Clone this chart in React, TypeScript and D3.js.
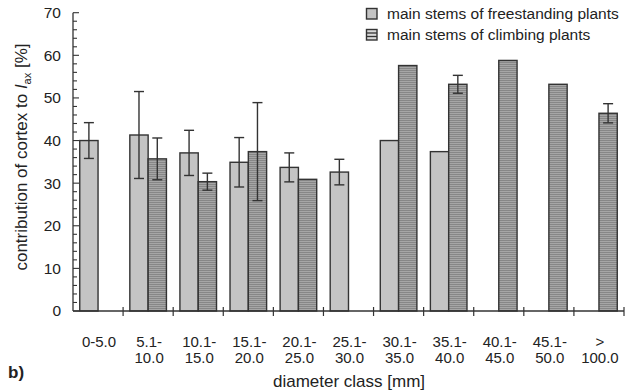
import React from "react";
import * as d3 from "d3";

// Diameter classes, shown as two-line labels
const classLine1 = ["0-5.0", "5.1-", "10.1-", "15.1-", "20.1-", "25.1-", "30.1-", "35.1-", "40.1-", "45.1-", ">"];
const classLine2 = ["", "10.0", "15.0", "20.0", "25.0", "30.0", "35.0", "40.0", "45.0", "50.0", "100.0"];

// Mean contribution of cortex to I_ax [%] and error (± SD); null = no data
const freestanding = [40.0, 41.3, 37.1, 34.9, 33.7, 32.6, 40.0, 37.4, null, null, null];
const freestandingErr = [4.2, 10.2, 5.3, 5.8, 3.4, 3.0, null, null, null, null, null];
const climbing = [null, 35.7, 30.35, 37.4, 30.9, null, 57.6, 53.2, 58.8, 53.2, 46.4];
const climbingErr = [null, 4.9, 2.0, 11.5, null, null, null, 2.1, null, null, 2.25];

const yTicks = [0, 10, 20, 30, 40, 50, 60, 70];

const W = 636;
const H = 392;
const FONT = "'Liberation Sans', Arial, Helvetica, sans-serif";
const INK = "#333";

export default function App() {
  const x = d3.scaleBand<number>().domain(d3.range(classLine1.length)).range([73, 624]).padding(0);
  const y = d3.scaleLinear().domain([0, 70]).range([311, 12.7]);
  const bw = x.bandwidth();
  const barW = 18.3;
  const minor = d3.range(0, 71, 2);

  const renderBar = (v: number | null, e: number | null, i: number, left: boolean) => {
    if (v == null) return null;
    const cx = x(i)! + bw / 2;
    const x0 = left ? cx - barW : cx;
    const mid = x0 + barW / 2;
    return (
      <g key={(left ? "f" : "c") + i}>
        <rect
          x={x0}
          y={y(v)}
          width={barW}
          height={y(0) - y(v)}
          fill={left ? "#c4c4c4" : "url(#stripes)"}
          stroke={INK}
          strokeWidth={1.4}
        />
        {e != null && (
          <g stroke={INK} strokeWidth={1.4}>
            <line x1={mid} x2={mid} y1={y(v + e)} y2={y(v - e)} />
            <line x1={mid - 5} x2={mid + 5} y1={y(v + e)} y2={y(v + e)} />
            <line x1={mid - 5} x2={mid + 5} y1={y(v - e)} y2={y(v - e)} />
          </g>
        )}
      </g>
    );
  };

  return (
    <svg width={W} height={H} style={{ position: "absolute", left: 0, top: 0, background: "#fff" }} fontFamily={FONT}>
      <defs>
        <pattern id="stripes" width={4} height={2} patternUnits="userSpaceOnUse">
          <rect width={4} height={2} fill="#a6a6a6" />
          <rect width={4} height={1} fill="#878787" />
        </pattern>
      </defs>

      {/* bars */}
      {freestanding.map((v, i) => renderBar(v, freestandingErr[i], i, true))}
      {climbing.map((v, i) => renderBar(v, climbingErr[i], i, false))}

      {/* y axis */}
      <line x1={73} x2={73} y1={y(0)} y2={y(70)} stroke={INK} strokeWidth={1.3} />
      {minor.map((t) => (
        <line key={t} x1={73} x2={t % 10 === 0 ? 79 : 77} y1={y(t)} y2={y(t)} stroke={INK} strokeWidth={1.1} />
      ))}
      {yTicks.map((t) => (
        <text key={t} x={61} y={y(t)} dy="0.35em" textAnchor="end" fontSize={15.5} fill="#222">
          {t}
        </text>
      ))}

      {/* x axis */}
      <line x1={73} x2={624} y1={y(0)} y2={y(0)} stroke={INK} strokeWidth={1.3} />
      {d3.range(1, classLine1.length + 1).map((i) => {
        const xx = i < classLine1.length ? x(i)! : 624;
        return <line key={i} x1={xx} x2={xx} y1={y(0) - 4} y2={y(0) + 5} stroke={INK} strokeWidth={1.2} />;
      })}
      {classLine1.map((l, i) => (
        <text key={"a" + i} x={x(i)! + bw / 2 + 1} y={347} textAnchor="middle" fontSize={15} fill="#222">
          {l}
        </text>
      ))}
      {classLine2.map((l, i) =>
        l ? (
          <text key={"b" + i} x={x(i)! + bw / 2 + 1} y={363} textAnchor="middle" fontSize={15} fill="#222">
            {l}
          </text>
        ) : null
      )}

      {/* axis titles */}
      <text x={349} y={387} textAnchor="middle" fontSize={17} fill="#222">
        diameter class [mm]
      </text>
      <text transform="translate(27,157) rotate(-90)" textAnchor="middle" fontSize={17} fill="#222">
        contribution of cortex to <tspan fontStyle="italic">I</tspan>
        <tspan fontSize={11} dy={4}>ax</tspan>
        <tspan dy={-4}> [%]</tspan>
      </text>
      <text x={8} y={378} fontSize={17} fontWeight="bold" fill="#222">
        b)
      </text>

      {/* legend */}
      <rect x={366.5} y={8.5} width={10.5} height={10.5} fill="#c4c4c4" stroke={INK} strokeWidth={1.4} />
      <text x={387} y={18.5} fontSize={15.5} fill="#222">
        main stems of freestanding plants
      </text>
      <rect x={366.5} y={29.5} width={10.5} height={10.5} fill="#d8d8d8" stroke={INK} strokeWidth={1.4} />
      <line x1={366.5} x2={377} y1={33} y2={33} stroke={INK} strokeWidth={1.3} />
      <line x1={366.5} x2={377} y1={36.5} y2={36.5} stroke={INK} strokeWidth={1.3} />
      <text x={387} y={40} fontSize={15.5} fill="#222">
        main stems of climbing plants
      </text>
    </svg>
  );
}
